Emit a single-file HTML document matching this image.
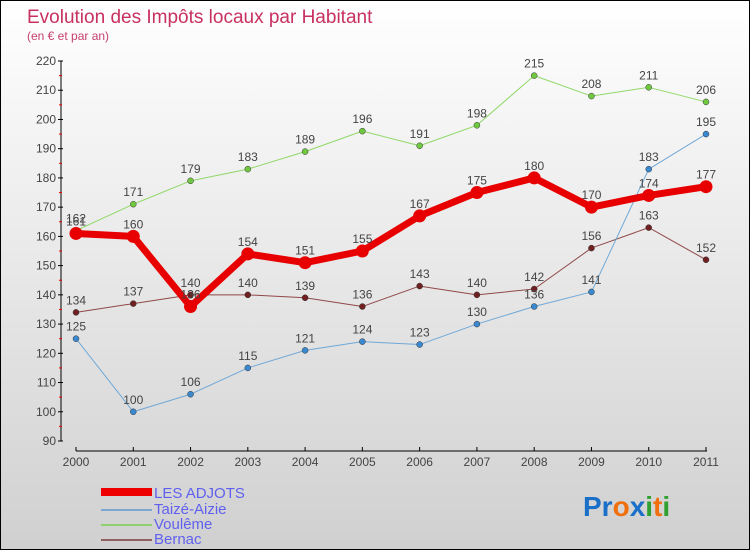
<!DOCTYPE html>
<html><head><meta charset="utf-8"><style>
body{margin:0}
#c{width:748px;height:548px;border:1px solid #000;background:linear-gradient(#fff,#d0d0d0);position:relative;font-family:"Liberation Sans",sans-serif}
svg text{font-family:"Liberation Sans",sans-serif}
</style></head><body>
<div id="c">
<svg id="s" width="748" height="548">
<text x="26" y="22" font-size="19" fill="#c83060">Evolution des Impôts locaux par Habitant</text>
<text x="26" y="39" font-size="12" fill="#c84070">(en € et par an)</text>
<g id="ax"></g><g id="ser"></g>
<g font-size="15" fill="#6060f0">
<rect x="100" y="487" width="51" height="8" fill="#e00"/>
<text x="153" y="497">LES ADJOTS</text>
<rect x="100" y="508" width="51" height="2" fill="#7aa8d0"/>
<text x="153" y="513">Taizé-Aizie</text>
<rect x="100" y="523" width="51" height="2" fill="#90d070"/>
<text x="153" y="528">Voulême</text>
<rect x="100" y="538" width="51" height="2" fill="#906060"/>
<text x="153" y="543">Bernac</text>
</g>
<text x="582" y="515" font-size="28" font-weight="bold"><tspan fill="#1a70c8">Pr</tspan><tspan fill="#f07010">o</tspan><tspan fill="#1a70c8">x</tspan><tspan fill="#30a030">i</tspan><tspan fill="#f07010">t</tspan><tspan fill="#30a030">i</tspan></text>
</svg></div>
<script>
const years=[2000,2001,2002,2003,2004,2005,2006,2007,2008,2009,2010,2011];
const adjots=[161,160,136,154,151,155,167,175,180,170,174,177];
const taize=[125,100,106,115,121,124,123,130,136,141,183,195];
const vouleme=[162,171,179,183,189,196,191,198,215,208,211,206];
const bernac=[134,137,140,140,139,136,143,140,142,156,163,152];
const yTicks=[90,100,110,120,130,140,150,160,170,180,190,200,210,220];
const NS="http://www.w3.org/2000/svg";
const X=i=>75+i*(705-75)/11, Y=v=>440-(v-90)*380/130;
function mk(t,a,p){const e=document.createElementNS(NS,t);for(const k in a)e.setAttribute(k,a[k]);p.appendChild(e);return e;}
const ax=document.getElementById('ax'),ser=document.getElementById('ser');
const ya=mk('line',{x1:60,y1:60,x2:60,y2:440,stroke:'#000'},ax);


yTicks.forEach(v=>{mk('line',{x1:57,x2:62,y1:Y(v),y2:Y(v),stroke:'#000'},ax);
 if(v<220)mk('line',{x1:58,x2:61,y1:Y(v+5),y2:Y(v+5),stroke:'#e00'},ax);
 const t=mk('text',{x:55,y:Y(v)+4,'font-size':12,fill:'#444','text-anchor':'end'},ax);t.textContent=v;
 
 });
const xa=mk('line',{x1:75,y1:450,x2:706,y2:450,stroke:'#000'},ax);


years.forEach((y,i)=>{mk('line',{x1:X(i),x2:X(i),y1:446,y2:450,stroke:'#000'},ax);
 const t=mk('text',{x:X(i),y:465,'font-size':12,fill:'#444','text-anchor':'middle'},ax);t.textContent=y;
 
 });
function series(d,name,col,w,r,dot){
 const g=mk('g',{},ser);
 
 
 mk('polyline',{points:d.map((v,i)=>X(i)+','+Y(v)).join(' '),fill:'none',stroke:col,'stroke-width':w,'stroke-linejoin':'round'},g);
 d.forEach((v,i)=>{const c=mk('circle',{cx:X(i),cy:Y(v),r:r,fill:dot,stroke:'#333','stroke-width':w>3?0:0.5},g);
  
  
  const t=mk('text',{x:X(i),y:Y(v)-8,'font-size':12,fill:'#444','text-anchor':'middle'},g);t.textContent=v;
  
  });
}
series(bernac,'bernac','#904848',1,3,'#702020');
series(taize,'taize-aizie','#70a8d8',1,3,'#3a88d0');
series(vouleme,'vouleme','#90d868',1,3,'#70c840');
series(adjots,'les-adjots','#e80000',7,6.5,'#e80000');
</script>
</body></html>
